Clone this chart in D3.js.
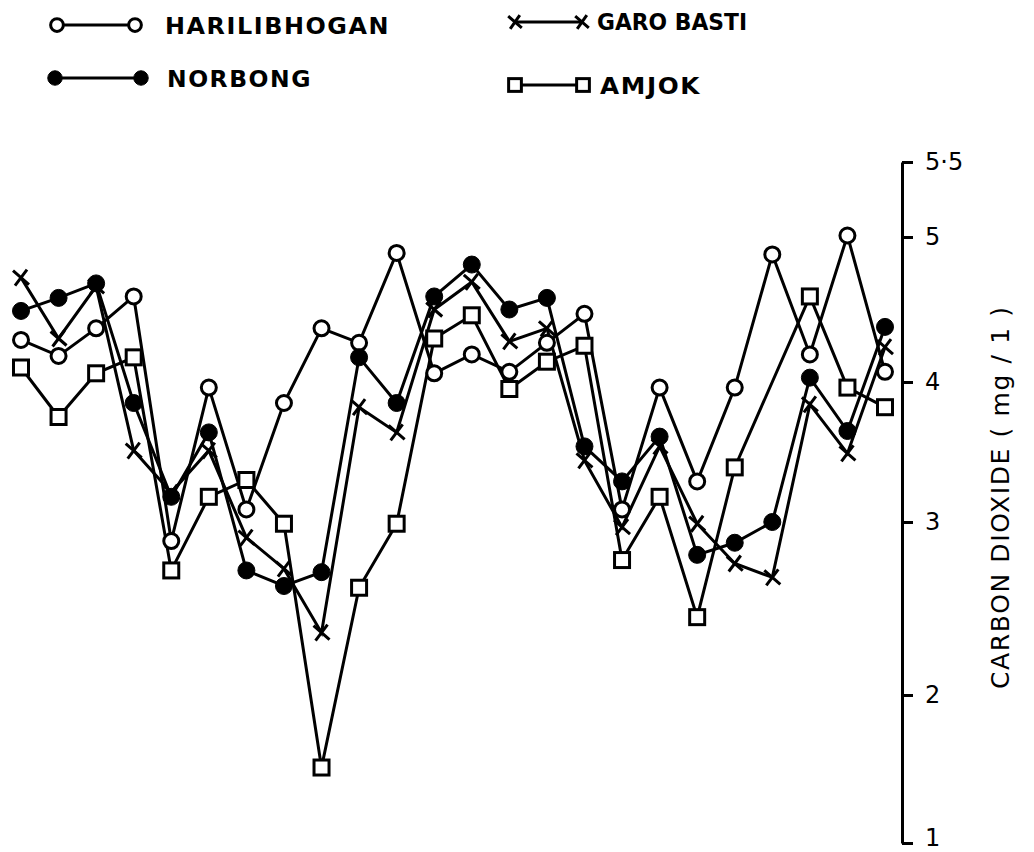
<!DOCTYPE html>
<html>
<head>
<meta charset="utf-8">
<script src="https://cdn.jsdelivr.net/npm/d3@7"></script>
<style>
  html, body { margin: 0; padding: 0; background: #fff; }
  svg { display: block; }
  text { font-family: "DejaVu Sans", sans-serif; fill: #000; }
</style>
</head>
<body>
<svg id="chart" width="1034" height="852"></svg>
<script>
// ---- data ----
const months = ["M1","M2","M3","M4","M5","M6","M7","M8","M9","M10","M11","M12",
                "M13","M14","M15","M16","M17","M18","M19","M20","M21","M22","M23","M24"];
const harilibhogan = [4.29,4.18,4.37,4.59,2.89,3.96,3.09,3.85,4.37,4.27,4.89,4.06,
                      4.19,4.07,4.27,4.47,3.09,3.96,3.29,3.96,4.88,4.19,5.01,4.07];
const norbong      = [4.49,4.58,4.68,3.85,3.18,3.64,2.72,2.63,2.71,4.17,3.85,4.59,
                      4.81,4.50,4.58,3.54,3.29,3.61,2.81,2.88,3.00,4.03,3.65,4.38];
const garoBasti    = [4.72,4.30,4.66,3.51,3.21,3.51,2.91,2.73,2.36,3.82,3.64,4.50,
                      4.69,4.28,4.37,3.44,2.97,3.54,2.99,2.76,2.68,3.84,3.49,4.24];
const amjok        = [4.10,3.75,4.06,4.17,2.72,3.18,3.30,2.99,1.51,2.62,2.99,4.30,
                      4.46,3.95,4.14,4.25,2.78,3.18,2.45,3.39,null,4.59,3.96,3.82];
const yTicks = [1,2,3,4,5,5.5];
const yTickLabels = ["1","2","3","4","5","5·5"];
const seriesNames = ["HARILIBHOGAN","NORBONG","GARO BASTI","AMJOK"];
const axisTitle = "CARBON DIOXIDE ( mg / 1 )";

// ---- setup ----
const svg = d3.select("#chart");
const x = d3.scalePoint().domain(months).range([21, 885]);
// hand-drawn axis: piecewise linear through the drawn tick positions
const y = d3.scaleLinear().domain(yTicks).range([843, 695, 522, 382, 237, 162]);

const series = [
  {name: seriesNames[0], values: harilibhogan, marker: "openCircle"},
  {name: seriesNames[1], values: norbong, marker: "filledCircle"},
  {name: seriesNames[2], values: garoBasti, marker: "cross"},
  {name: seriesNames[3], values: amjok, marker: "square"}
];

const line = d3.line().x(d => x(d.m)).y(d => y(d.v));
const SW = 3;

function drawMarker(g, type, cx, cy, sc) {
  sc = sc || 1;
  if (type === "openCircle") {
    g.append("circle").attr("cx", cx).attr("cy", cy).attr("r", 7.5 * sc)
      .attr("fill", "#fff").attr("stroke", "#000").attr("stroke-width", SW);
  } else if (type === "filledCircle") {
    g.append("circle").attr("cx", cx).attr("cy", cy).attr("r", 8.5 * sc)
      .attr("fill", "#000").attr("stroke", "#000").attr("stroke-width", 1);
  } else if (type === "square") {
    const h = 7.5 * sc;
    g.append("rect").attr("x", cx - h).attr("y", cy - h).attr("width", 2 * h).attr("height", 2 * h)
      .attr("fill", "#fff").attr("stroke", "#000").attr("stroke-width", SW);
  } else if (type === "cross") {
    const s = 8 * sc;
    g.append("path")
      .attr("d", `M${cx - s},${cy - s + 1}L${cx + s},${cy + s - 1}M${cx - s + 2},${cy + s}L${cx + s - 2},${cy - s}`)
      .attr("fill", "none").attr("stroke", "#000").attr("stroke-width", SW).attr("stroke-linecap", "butt");
  }
}

// ---- lines ----
series.forEach(s => {
  const pts = months.map((m, i) => ({m, v: s.values[i]})).filter(d => d.v !== null);
  svg.append("path").datum(pts).attr("d", line)
    .attr("fill", "none").attr("stroke", "#000").attr("stroke-width", SW)
    .attr("stroke-linejoin", "miter");
});
// ---- markers ----
const order = [2, 3, 0, 1];
order.forEach(k => {
  const s = series[k];
  const g = svg.append("g");
  months.forEach((m, i) => {
    if (s.values[i] !== null) drawMarker(g, s.marker, x(m), y(s.values[i]));
  });
});

// ---- axis (right) ----
const axis = d3.axisRight(y).tickValues(yTicks)
  .tickFormat((d, i) => yTickLabels[i]).tickSize(11).tickSizeOuter(0).tickPadding(12);
const ag = svg.append("g").attr("transform", "translate(902,0)").call(axis);
ag.select(".domain").attr("stroke", "#000").attr("stroke-width", 3);
ag.selectAll(".tick line").attr("stroke", "#000").attr("stroke-width", 3);
ag.selectAll(".tick text").attr("font-size", 24).attr("font-family", "DejaVu Sans, sans-serif")
  .attr("fill", "#000")
  .attr("dy", (d) => d === 1 ? "0.1em" : "0.32em");

svg.append("text")
  .attr("transform", "translate(1009,498) rotate(-90)")
  .attr("text-anchor", "middle")
  .attr("font-size", 25)
  .attr("textLength", 382).attr("lengthAdjust", "spacing")
  .text(axisTitle);

// ---- legend ----
const legend = [
  {k: 0, x1: 57, x2: 135, y: 25, tx: 165, ty: 34, w: 225, ls: 1.5},
  {k: 1, x1: 55, x2: 141, y: 78, tx: 167, ty: 87, w: 145, ls: 1.5},
  {k: 2, x1: 515, x2: 582, y: 22, tx: 597, ty: 30, w: 150, ls: 0},
  {k: 3, x1: 515, x2: 583, y: 85, tx: 600, ty: 94, w: 101, ls: 1.5}
];
legend.forEach(l => {
  const s = series[l.k];
  const g = svg.append("g");
  g.append("line").attr("x1", l.x1).attr("x2", l.x2).attr("y1", l.y).attr("y2", l.y)
    .attr("stroke", "#000").attr("stroke-width", SW);
  drawMarker(g, s.marker, l.x1, l.y, 0.85);
  drawMarker(g, s.marker, l.x2, l.y, 0.85);
  g.append("text").attr("x", l.tx).attr("y", l.ty)
    .attr("font-size", 23).attr("font-weight", "bold")
    .attr("letter-spacing", l.ls)
    .attr("textLength", l.w).attr("lengthAdjust", "spacingAndGlyphs")
    .text(s.name);
});
</script>
</body>
</html>
